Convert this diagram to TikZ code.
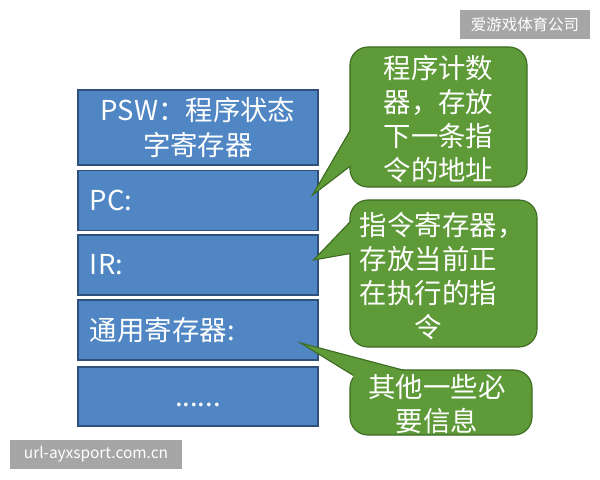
\documentclass[tikz,border=0pt]{standalone}
\usepackage{fontspec}
\setmainfont{Noto Sans CJK SC}
\usepackage{tikz}
\usetikzlibrary{positioning,calc}
\definecolor{regblue}{HTML}{4F86C3}
\definecolor{regline}{HTML}{30507C}
\definecolor{notegreen}{HTML}{5E9B38}
\definecolor{noteline}{HTML}{3E6B24}
\definecolor{markgray}{HTML}{A6A6A6}

\begin{document}
\begin{tikzpicture}[
    x=0.025cm, y=-0.025cm,
    reg/.style={draw=regline, line width=0.8pt, fill=regblue, text=white, minimum width=6cm,
      inner xsep=0.3cm, text width=5.4cm, align=left, font=\fontsize{19.5}{25}\selectfont},
    note/.style={draw=noteline, line width=0.8pt, fill=notegreen, rounded corners=0.45cm, inner sep=0pt},
    notetext/.style={text=white, align=center, inner sep=0pt, font=\fontsize{19.5}{24}\selectfont},
    tail/.style={draw=noteline, line width=0.8pt, line join=miter},
    stamp/.style={fill=markgray, text=white, inner sep=0pt, font=\fontsize{11}{13}\selectfont},
  ]
    \useasboundingbox (0,0) rectangle (600,480);

    % register stack
    \node[reg, align=center, minimum height=1.875cm] (psw) at (198,127.5) {PSW：程序状态\\字寄存器};
    \node[reg, minimum height=1.5cm] (pc) at (198,200.5) {PC:};
    \node[reg, minimum height=1.5cm] (ir) at (198,265) {IR:};
    \node[reg, minimum height=1.5cm] (gpr) at (198,330) {通用寄存器:};
    \node[reg, align=center, minimum height=1.475cm, text height=0.5cm, text depth=0cm] (more) at (198,396.5) {......};

    % notes
    \node[note, minimum width=4.425cm, minimum height=3.5cm] (pcnote) at (438.5,117) {};
    \node[note, minimum width=4.675cm, minimum height=3.675cm] (irnote) at (443.5,273.5) {};
    \node[note, minimum width=4.55cm, minimum height=1.625cm] (gprnote) at (441,402.5) {};

    % tails
    \coordinate (pctip) at ($(pc.east)+(-6,-5.5)$);
    \coordinate (irtip) at ($(ir.east)+(-5,-5)$);
    \coordinate (gprtip) at ($(gpr.east)+(-18,13)$);

    \coordinate (p1) at ($(pcnote.west)+(1,13)$);
    \coordinate (p2) at ($(pcnote.west)+(1,49)$);
    \fill[notegreen] (p1) -- (pctip) -- (p2) -- ++(3,0) -- ($(p1)+(3,0)$) -- cycle;
    \draw[tail] (p1) -- (pctip) -- (p2);

    \coordinate (i1) at ($(irnote.west)+(1,-52)$);
    \coordinate (i2) at ($(irnote.west)+(1,-20)$);
    \fill[notegreen] (i1) -- (irtip) -- (i2) -- ++(3,0) -- ($(i1)+(3,0)$) -- cycle;
    \draw[tail] (i1) -- (irtip) -- (i2);

    \coordinate (g1) at ($(gprnote.north west)+(55,1)$);
    \coordinate (g2) at ($(gprnote.north west)+(4,6)$);
    \fill[notegreen] (g1) -- (gprtip) -- (g2) -- ++(0,3) -- ($(g1)+(0,3)$) -- cycle;
    \draw[tail] (g1) -- (gprtip) -- (g2);

    % note texts
    \node[notetext] (pctext) at ($(pcnote)+(0,2)$) {程序计数\\器，存放\\下一条指\\令的地址};
    \node[notetext] (irtext) at ($(irnote)+(-15,2.5)$) {指令寄存器\rlap{，}\\存放当前正\\在执行的指\\令};
    \node[notetext] (gprtext) at ($(gprnote)+(-4,1.5)$) {其他一些必\\要信息};

    % watermarks
    \node[stamp, minimum width=3.25cm, minimum height=0.72cm] (markcn) at (525,24.5) {爱游戏体育公司};
    \node[stamp, minimum width=4.3cm, minimum height=0.74cm] (markurl) at (96,454.5) {url-ayxsport.com.cn};
  \end{tikzpicture}
\end{document}
